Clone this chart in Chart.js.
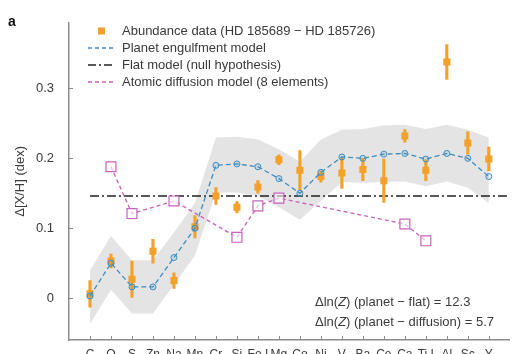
<!DOCTYPE html>
<html>
<head>
<meta charset="utf-8">
<script src="https://cdn.jsdelivr.net/npm/chart.js@4.4.1/dist/chart.umd.min.js"></script>
<style>
  html, body { margin: 0; padding: 0; background: #fff; overflow: hidden; }
  #wrap { position: relative; width: 518px; height: 364px; }
</style>
</head>
<body>
<div id="wrap"><canvas id="abundanceChart"></canvas></div>
<script>
// 元素（x軸カテゴリ）
const elements = ['C', 'O', 'S', 'Zn', 'Na', 'Mn', 'Cr', 'Si', 'Fe I', 'Mg', 'Co', 'Ni', 'V', 'Ba', 'Ce', 'Ca', 'Ti I', 'Al', 'Sc', 'Y'];

// 観測データ（HD 185689 − HD 185726）
const abundance = [0.006, 0.053, 0.027, 0.067, 0.025, 0.102, 0.146, 0.130, 0.159, 0.198, 0.183, 0.174, 0.179, 0.184, 0.168, 0.232, 0.183, 0.338, 0.222, 0.199];
const abundanceErr = [0.019, 0.010, 0.026, 0.017, 0.011, 0.016, 0.012, 0.008, 0.009, 0.007, 0.028, 0.008, 0.022, 0.016, 0.031, 0.009, 0.015, 0.025, 0.016, 0.017];

// 惑星取り込みモデルと不確かさの帯
const planetModel = [0.003, 0.050, 0.016, 0.016, 0.058, 0.100, 0.190, 0.192, 0.188, 0.171, 0.150, 0.180, 0.202, 0.200, 0.206, 0.207, 0.199, 0.207, 0.200, 0.174];
const bandUpper = [0.040, 0.089, 0.054, 0.054, 0.094, 0.136, 0.230, 0.231, 0.227, 0.213, 0.195, 0.227, 0.241, 0.242, 0.247, 0.248, 0.242, 0.248, 0.241, 0.230];
const bandLower = [-0.037, 0.012, -0.022, -0.022, 0.019, 0.061, 0.151, 0.151, 0.146, 0.130, 0.112, 0.139, 0.166, 0.165, 0.166, 0.167, 0.160, 0.167, 0.158, 0.136];

// 原子拡散モデル（8元素）
const diffusionElements = ['O', 'S', 'Na', 'Si', 'Fe I', 'Mg', 'Ca', 'Ti I'];
const diffusionModel = [0.188, 0.121, 0.139, 0.087, 0.132, 0.143, 0.106, 0.082];

// フラットモデル
const flatLevel = 0.146;
const flatRange = [0, 20];

// 軸目盛
const yTicks = [0, 0.1, 0.2, 0.3];
const yTickLabels = ['0', '0.1', '0.2', '0.3'];

const legendLabels = [
    'Abundance data (HD 185689 \u2212 HD 185726)',
    'Planet engulfment model',
    'Flat model (null hypothesis)',
    'Atomic diffusion model (8 elements)'
];
const noteLines = [
    ['\u0394ln(', 'Z', ') (planet \u2212 flat) = 12.3'],
    ['\u0394ln(', 'Z', ') (planet \u2212 diffusion) = 5.7']
];

const ORANGE = '#f3a12a';
const BLUE = '#3c8dc2';
const PURPLE = '#c862bb';
const AXIS = '#8c8c8c';
const TEXT = '#3a3a3a';
const FONT = '"Liberation Sans", Arial, sans-serif';

const xy = (vals) => vals.map((v, i) => ({ x: i, y: v }));

// 内向きの目盛線
const innerTicks = {
    id: 'innerTicks',
    afterDraw(chart) {
        const ctx = chart.ctx;
        const area = chart.chartArea;
        const xs = chart.scales.x, ys = chart.scales.y;
        ctx.save();
        ctx.strokeStyle = AXIS;
        ctx.lineWidth = 1;
        ctx.beginPath();
        xs.ticks.forEach(t => {
            const px = Math.round(xs.getPixelForValue(t.value)) + 0.5;
            ctx.moveTo(px, area.bottom);
            ctx.lineTo(px, area.bottom - 4);
        });
        ys.ticks.forEach(t => {
            const py = Math.round(ys.getPixelForValue(t.value)) + 0.5;
            ctx.moveTo(area.left, py);
            ctx.lineTo(area.left + 4, py);
        });
        ctx.stroke();
        ctx.restore();
    }
};

// 図内の凡例・注記
const insideLegend = {
    id: 'insideLegend',
    afterDraw(chart) {
        const ctx = chart.ctx;
        ctx.save();
        ctx.font = '13px ' + FONT;
        ctx.fillStyle = TEXT;
        ctx.textBaseline = 'middle';
        const rows = [31, 48, 65, 82];
        const x0 = 88, x1 = 115, tx = 122;

        // 観測データ
        ctx.fillStyle = ORANGE;
        ctx.fillRect(98, rows[0] - 3.5, 7, 7);
        // 惑星モデル
        ctx.lineWidth = 1.3;
        ctx.strokeStyle = BLUE;
        ctx.setLineDash([4, 3]);
        ctx.beginPath(); ctx.moveTo(x0, rows[1]); ctx.lineTo(x1, rows[1]); ctx.stroke();
        // フラットモデル
        ctx.strokeStyle = '#222';
        ctx.setLineDash([8, 3, 2, 3]);
        ctx.beginPath(); ctx.moveTo(x0, rows[2]); ctx.lineTo(x1, rows[2]); ctx.stroke();
        // 拡散モデル
        ctx.strokeStyle = PURPLE;
        ctx.setLineDash([4, 3]);
        ctx.beginPath(); ctx.moveTo(x0, rows[3]); ctx.lineTo(x1, rows[3]); ctx.stroke();
        ctx.setLineDash([]);

        ctx.fillStyle = TEXT;
        legendLabels.forEach((label, i) => ctx.fillText(label, tx, rows[i]));

        // Δln(Z) 注記
        [302, 322].forEach((y, i) => {
            let x = 315;
            noteLines[i].forEach((part, j) => {
                ctx.font = (j === 1 ? 'italic ' : '') + '13px ' + FONT;
                ctx.fillText(part, x, y);
                x += ctx.measureText(part).width;
            });
        });

        // パネル記号
        ctx.font = 'bold 14px ' + FONT;
        ctx.fillStyle = '#111';
        ctx.fillText('a', 8, 22);
        ctx.restore();
    }
};

const ctx = document.getElementById('abundanceChart').getContext('2d');
const abundanceChart = new Chart(ctx, {
    type: 'line',
    data: {
        datasets: [
            {
                label: 'band upper',
                data: xy(bandUpper),
                borderWidth: 0,
                pointRadius: 0,
                backgroundColor: 'rgba(205, 205, 205, 0.55)',
                fill: '+1',
                order: 10
            },
            {
                label: 'band lower',
                data: xy(bandLower),
                borderWidth: 0,
                pointRadius: 0,
                fill: false,
                order: 10
            },
            {
                label: legendLabels[2],
                data: flatRange.map(x => ({ x: x, y: flatLevel })),
                borderColor: '#222',
                borderWidth: 1.4,
                borderDash: [9, 3, 2, 3],
                pointRadius: 0,
                fill: false,
                order: 8
            },
            {
                type: 'bar',
                label: 'error',
                data: abundance.map((v, i) => ({ x: i, y: [v - abundanceErr[i], v + abundanceErr[i]] })),
                backgroundColor: ORANGE,
                barThickness: 2.5,
                order: 7
            },
            {
                label: legendLabels[0],
                data: xy(abundance),
                showLine: false,
                pointStyle: 'rect',
                pointRadius: 5,
                pointBorderWidth: 0,
                pointBackgroundColor: ORANGE,
                order: 6
            },
            {
                label: legendLabels[3],
                data: diffusionModel.map((v, i) => ({ x: elements.indexOf(diffusionElements[i]), y: v })),
                borderColor: PURPLE,
                borderWidth: 1.3,
                borderDash: [4, 3],
                pointStyle: 'rect',
                pointRadius: 7,
                pointBorderWidth: 1.2,
                pointBorderColor: PURPLE,
                pointBackgroundColor: 'rgba(255, 255, 255, 0.6)',
                fill: false,
                order: 5
            },
            {
                label: legendLabels[1],
                data: xy(planetModel),
                borderColor: BLUE,
                borderWidth: 1.3,
                borderDash: [5, 3],
                pointStyle: 'circle',
                pointRadius: 3,
                pointBorderWidth: 1,
                pointBorderColor: BLUE,
                pointBackgroundColor: 'rgba(60, 141, 194, 0.15)',
                fill: false,
                order: 4
            }
        ]
    },
    options: {
        responsive: true,
        maintainAspectRatio: false,
        animation: false,
        layout: { padding: { top: 13, right: 0, left: 0, bottom: 0 } },
        plugins: {
            legend: { display: false },
            tooltip: { enabled: false }
        },
        scales: {
            x: {
                type: 'linear',
                min: -1,
                max: 20,
                offset: false,
                afterBuildTicks: scale => { scale.ticks = elements.map((_, i) => ({ value: i })); },
                afterFit: scale => { scale.height = 24; },
                grid: { display: false, drawTicks: false },
                border: { display: true, color: AXIS, width: 1.5 },
                ticks: {
                    autoSkip: false,
                    maxRotation: 0,
                    padding: 7,
                    color: TEXT,
                    font: { family: FONT, size: 12 },
                    callback: (v, i) => elements[i]
                }
            },
            y: {
                min: -0.06,
                max: 0.394,
                afterBuildTicks: scale => { scale.ticks = yTicks.map(v => ({ value: v })); },
                afterFit: scale => { scale.width = 69; },
                grid: { display: false, drawTicks: false },
                border: { display: true, color: AXIS, width: 1.5 },
                ticks: {
                    padding: 15,
                    color: TEXT,
                    font: { family: FONT, size: 13 },
                    callback: (v, i) => yTickLabels[i]
                },
                title: {
                    display: true,
                    text: '\u0394[X/H] (dex)',
                    color: TEXT,
                    font: { family: FONT, size: 13 },
                    padding: { top: 13, bottom: 0 }
                }
            }
        }
    },
    plugins: [innerTicks, insideLegend]
});
</script>
</body>
</html>
